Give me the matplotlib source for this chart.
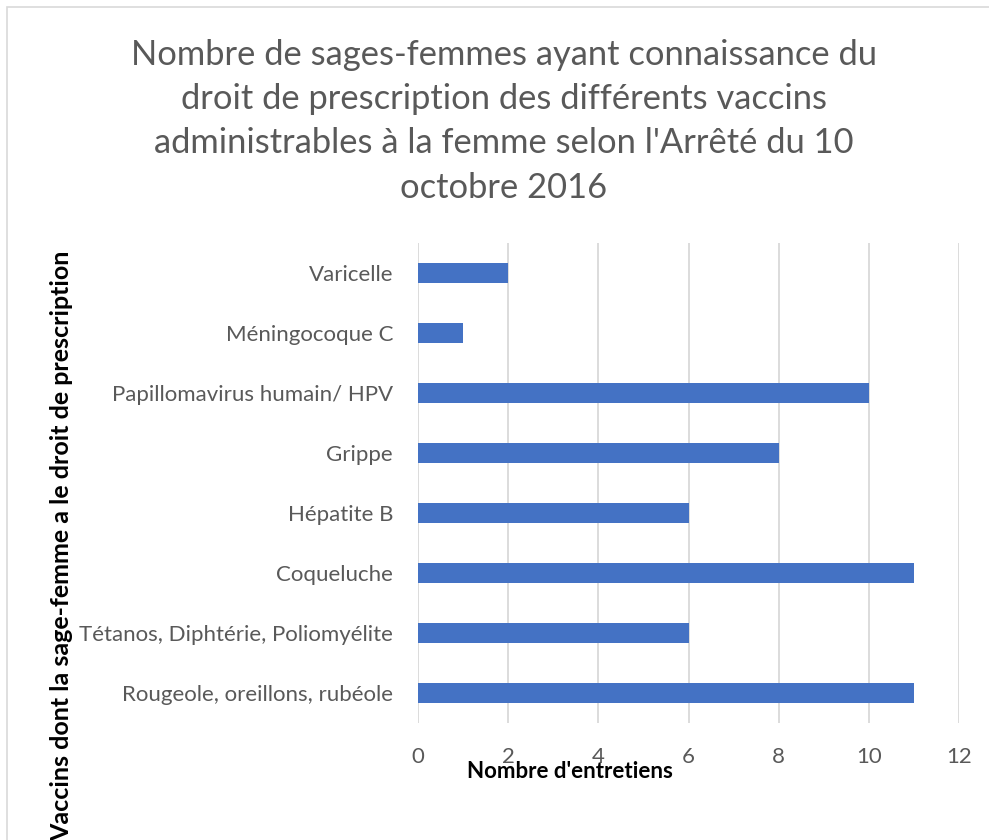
import matplotlib
matplotlib.use("Agg")
import matplotlib.pyplot as plt
from matplotlib.patches import Rectangle

# data (bottom to top, as drawn)
vaccins = ["Rougeole, oreillons, rubéole",
           "Tétanos, Diphtérie, Poliomyélite",
           "Coqueluche",
           "Hépatite B",
           "Grippe",
           "Papillomavirus humain/ HPV",
           "Méningocoque C",
           "Varicelle"]
entretiens = [11, 6, 11, 6, 8, 10, 1, 2]
xticks = [0, 2, 4, 6, 8, 10, 12]

titre = ("Nombre de sages-femmes ayant connaissance du\n"
         "droit de prescription des différents vaccins\n"
         "administrables à la femme selon l'Arrêté du 10\n"
         "octobre 2016")

plt.rcParams['font.family'] = ['Lato', 'DejaVu Sans']
gris = '#595959'

fig = plt.figure(figsize=(9.89, 8.40), dpi=100)
ax = fig.add_axes([418/989, 1-723/840, (959-418)/989, (723-243)/840])

ax.barh(range(len(vaccins)), entretiens, height=0.34, color='#4472C4', zorder=3)
ax.set_xlim(0, 12)
ax.set_ylim(-0.5, len(vaccins)-0.5)
ax.set_xticks(xticks)
ax.set_yticks(range(len(vaccins)))
ax.set_yticklabels(vaccins)
ax.tick_params(axis='both', length=0, labelsize=16, labelcolor=gris)
ax.tick_params(axis='y', pad=18)
ax.tick_params(axis='x', pad=17)
ax.grid(axis='x', color='#D9D9D9', linewidth=1.3, zorder=0)
for s in ax.spines.values():
    s.set_visible(False)

fig.text(504/989, 1-39/840, titre, ha='center', va='top', fontsize=24.8,
         color=gris, linespacing=1.47)
fig.text(570/989, 1-772/840, "Nombre d'entretiens", ha='center', va='center',
         fontsize=16, fontweight='bold', color='black')
fig.text(62/989, 1-546/840, "Vaccins dont la sage-femme a le droit de prescription",
         ha='center', va='center', rotation=90, fontsize=18, fontweight='bold',
         color='black')

# cadre du graphique
fig.patches.append(Rectangle((7/989, -0.1), 1.2, 1-7/840+0.1, transform=fig.transFigure,
                             fill=False, edgecolor='#D9D9D9', linewidth=1.2))

fig.savefig("out.png", dpi=100)
